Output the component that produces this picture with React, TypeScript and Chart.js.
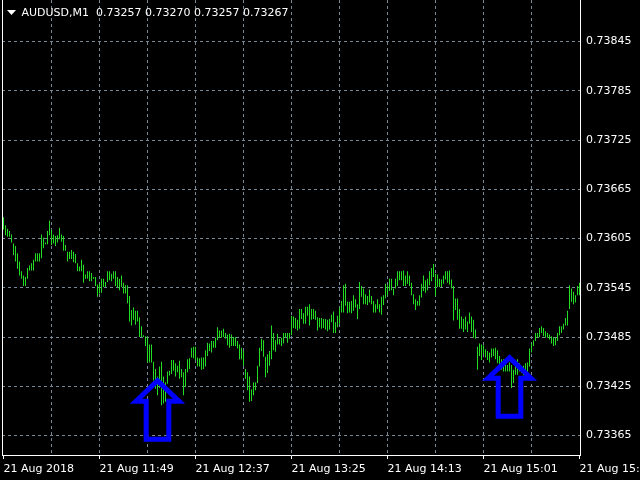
import { useEffect, useRef } from 'react';
import { Chart, registerables } from 'chart.js';

Chart.register(...registerables);

// ---- data ----
const timeLabels = ['21 Aug 2018', '21 Aug 11:49', '21 Aug 12:37', '21 Aug 13:25', '21 Aug 14:13', '21 Aug 15:01', '21 Aug 15:49'];
const xGridBars = [0, 24, 48, 72, 96, 120, 144, 168, 192, 216, 240, 264, 288];
const yTicks = [0.73365, 0.73425, 0.73485, 0.73545, 0.73605, 0.73665, 0.73725, 0.73785, 0.73845];

const highs = [
  0.73631, 0.73621, 0.73617, 0.73614, 0.73610, 0.73599, 0.73596, 0.73587, 0.73577, 0.73565,
  0.73560, 0.73558, 0.73569, 0.73572, 0.73575, 0.73579, 0.73587, 0.73587, 0.73587, 0.73610,
  0.73606, 0.73600, 0.73614, 0.73627, 0.73615, 0.73610, 0.73608, 0.73609, 0.73618, 0.73610,
  0.73608, 0.73597, 0.73589, 0.73589, 0.73591, 0.73589, 0.73586, 0.73575, 0.73571, 0.73579,
  0.73573, 0.73561, 0.73565, 0.73565, 0.73563, 0.73558, 0.73558, 0.73549, 0.73550, 0.73556,
  0.73556, 0.73552, 0.73565, 0.73565, 0.73562, 0.73565, 0.73565, 0.73558, 0.73556, 0.73560,
  0.73551, 0.73548, 0.73548, 0.73535, 0.73518, 0.73521, 0.73517, 0.73517, 0.73509, 0.73498,
  0.73487, 0.73486, 0.73485, 0.73476, 0.73476, 0.73455, 0.73446, 0.73437, 0.73449, 0.73455,
  0.73437, 0.73430, 0.73443, 0.73444, 0.73457, 0.73457, 0.73453, 0.73450, 0.73456, 0.73446,
  0.73442, 0.73446, 0.73458, 0.73459, 0.73472, 0.73473, 0.73473, 0.73460, 0.73459, 0.73460,
  0.73460, 0.73469, 0.73478, 0.73477, 0.73480, 0.73480, 0.73484, 0.73497, 0.73493, 0.73493,
  0.73495, 0.73490, 0.73488, 0.73489, 0.73488, 0.73485, 0.73485, 0.73480, 0.73476, 0.73472,
  0.73468, 0.73446, 0.73442, 0.73437, 0.73421, 0.73430, 0.73430, 0.73450, 0.73472, 0.73483,
  0.73481, 0.73461, 0.73464, 0.73468, 0.73499, 0.73490, 0.73481, 0.73489, 0.73483, 0.73484,
  0.73490, 0.73490, 0.73490, 0.73490, 0.73511, 0.73510, 0.73508, 0.73506, 0.73519, 0.73519,
  0.73514, 0.73522, 0.73522, 0.73525, 0.73519, 0.73519, 0.73517, 0.73509, 0.73508, 0.73508,
  0.73507, 0.73507, 0.73506, 0.73507, 0.73512, 0.73516, 0.73503, 0.73511, 0.73521, 0.73529,
  0.73548, 0.73550, 0.73528, 0.73528, 0.73529, 0.73536, 0.73531, 0.73525, 0.73552, 0.73547,
  0.73544, 0.73537, 0.73535, 0.73543, 0.73535, 0.73529, 0.73525, 0.73531, 0.73525, 0.73534,
  0.73536, 0.73550, 0.73548, 0.73556, 0.73556, 0.73544, 0.73556, 0.73565, 0.73565, 0.73565,
  0.73566, 0.73560, 0.73565, 0.73560, 0.73551, 0.73537, 0.73531, 0.73529, 0.73536, 0.73550,
  0.73560, 0.73554, 0.73556, 0.73565, 0.73569, 0.73574, 0.73562, 0.73561, 0.73556, 0.73555,
  0.73560, 0.73565, 0.73565, 0.73566, 0.73555, 0.73547, 0.73532, 0.73532, 0.73519, 0.73510,
  0.73507, 0.73510, 0.73504, 0.73515, 0.73510, 0.73506, 0.73494, 0.73473, 0.73477, 0.73476,
  0.73475, 0.73470, 0.73468, 0.73466, 0.73471, 0.73471, 0.73472, 0.73469, 0.73462, 0.73458,
  0.73458, 0.73451, 0.73451, 0.73454, 0.73451, 0.73445, 0.73453, 0.73458, 0.73453, 0.73448,
  0.73450, 0.73453, 0.73454, 0.73471, 0.73477, 0.73481, 0.73490, 0.73490, 0.73496, 0.73498,
  0.73496, 0.73492, 0.73490, 0.73488, 0.73486, 0.73485, 0.73484, 0.73490, 0.73498, 0.73498,
  0.73501, 0.73508, 0.73517, 0.73548, 0.73544, 0.73540, 0.73536, 0.73547, 0.73551,
];

const lows = [
  0.73616, 0.73609, 0.73607, 0.73607, 0.73600, 0.73585, 0.73577, 0.73568, 0.73560, 0.73556,
  0.73547, 0.73547, 0.73556, 0.73566, 0.73566, 0.73566, 0.73577, 0.73577, 0.73577, 0.73581,
  0.73593, 0.73598, 0.73598, 0.73609, 0.73597, 0.73599, 0.73596, 0.73600, 0.73604, 0.73601,
  0.73590, 0.73590, 0.73577, 0.73580, 0.73580, 0.73576, 0.73575, 0.73565, 0.73565, 0.73565,
  0.73551, 0.73556, 0.73556, 0.73553, 0.73553, 0.73556, 0.73547, 0.73534, 0.73538, 0.73539,
  0.73546, 0.73546, 0.73552, 0.73554, 0.73553, 0.73556, 0.73547, 0.73545, 0.73542, 0.73546,
  0.73538, 0.73538, 0.73526, 0.73504, 0.73499, 0.73506, 0.73500, 0.73504, 0.73485, 0.73485,
  0.73485, 0.73474, 0.73454, 0.73454, 0.73454, 0.73432, 0.73422, 0.73414, 0.73423, 0.73402,
  0.73404, 0.73406, 0.73428, 0.73438, 0.73440, 0.73444, 0.73437, 0.73442, 0.73434, 0.73436,
  0.73414, 0.73424, 0.73442, 0.73446, 0.73460, 0.73459, 0.73457, 0.73449, 0.73449, 0.73445,
  0.73446, 0.73449, 0.73462, 0.73468, 0.73466, 0.73472, 0.73472, 0.73481, 0.73484, 0.73484,
  0.73485, 0.73483, 0.73475, 0.73472, 0.73474, 0.73474, 0.73474, 0.73471, 0.73458, 0.73458,
  0.73450, 0.73434, 0.73420, 0.73406, 0.73407, 0.73414, 0.73420, 0.73429, 0.73449, 0.73468,
  0.73461, 0.73436, 0.73441, 0.73450, 0.73458, 0.73469, 0.73467, 0.73476, 0.73476, 0.73474,
  0.73477, 0.73484, 0.73478, 0.73483, 0.73487, 0.73496, 0.73495, 0.73493, 0.73495, 0.73507,
  0.73501, 0.73501, 0.73511, 0.73499, 0.73506, 0.73507, 0.73506, 0.73493, 0.73497, 0.73495,
  0.73496, 0.73494, 0.73492, 0.73494, 0.73503, 0.73490, 0.73490, 0.73497, 0.73501, 0.73515,
  0.73515, 0.73523, 0.73514, 0.73515, 0.73514, 0.73517, 0.73521, 0.73507, 0.73519, 0.73534,
  0.73525, 0.73525, 0.73524, 0.73527, 0.73525, 0.73515, 0.73515, 0.73519, 0.73515, 0.73512,
  0.73524, 0.73532, 0.73536, 0.73541, 0.73542, 0.73536, 0.73544, 0.73547, 0.73554, 0.73554,
  0.73547, 0.73547, 0.73550, 0.73547, 0.73536, 0.73525, 0.73518, 0.73523, 0.73523, 0.73533,
  0.73541, 0.73539, 0.73542, 0.73548, 0.73553, 0.73558, 0.73535, 0.73546, 0.73546, 0.73546,
  0.73550, 0.73555, 0.73551, 0.73549, 0.73544, 0.73505, 0.73518, 0.73506, 0.73495, 0.73495,
  0.73491, 0.73494, 0.73491, 0.73501, 0.73491, 0.73484, 0.73483, 0.73445, 0.73462, 0.73457,
  0.73464, 0.73460, 0.73457, 0.73454, 0.73460, 0.73462, 0.73458, 0.73453, 0.73449, 0.73445,
  0.73443, 0.73443, 0.73443, 0.73443, 0.73423, 0.73429, 0.73439, 0.73439, 0.73443, 0.73441,
  0.73438, 0.73443, 0.73441, 0.73449, 0.73466, 0.73474, 0.73480, 0.73484, 0.73485, 0.73490,
  0.73486, 0.73484, 0.73484, 0.73482, 0.73477, 0.73474, 0.73475, 0.73480, 0.73487, 0.73490,
  0.73494, 0.73499, 0.73499, 0.73519, 0.73528, 0.73525, 0.73527, 0.73536, 0.73536,
];

const headerSymbol = 'AUDUSD,M1';
const headerOHLC = [0.73257, 0.73270, 0.73257, 0.73267];

const arrowBars = [77, 253];
const arrowPrices = [0.73436, 0.73464];

// ---- view range / styles ----
const Y_MIN = 0.7334125;
const Y_MAX = 0.7389556;
const X_MIN = -0.75;
const X_MAX = 288.25;

const BAR_COLOR = '#22dd22';
const GRID_COLOR = '#778899';
const ARROW_COLOR = '#0000ff';
const FONT = 'DejaVu Sans';

const headerPlugin = {
  id: 'mtHeader',
  afterDraw(chart: any) {
    const ctx = chart.ctx;
    ctx.save();
    ctx.fillStyle = '#ffffff';
    ctx.beginPath();
    ctx.moveTo(7, 10);
    ctx.lineTo(16, 10);
    ctx.lineTo(11.5, 15);
    ctx.closePath();
    ctx.fill();
    ctx.font = `11px "${FONT}"`;
    ctx.textBaseline = 'alphabetic';
    ctx.textAlign = 'left';
    ctx.fillText(headerSymbol, 21.5, 16);
    ctx.fillText(headerOHLC.map((v) => v.toFixed(5)).join(' '), 96, 16);
    ctx.restore();
  },
};

const arrowPlugin = {
  id: 'mtArrows',
  afterDatasetsDraw(chart: any) {
    const ctx = chart.ctx;
    const xs = chart.scales.x;
    const ys = chart.scales.y;
    ctx.save();
    ctx.strokeStyle = ARROW_COLOR;
    ctx.lineWidth = 5;
    ctx.lineJoin = 'miter';
    ctx.miterLimit = 10;
    for (let k = 0; k < arrowBars.length; k++) {
      const px = xs.getPixelForValue(arrowBars[k]);
      const py = ys.getPixelForValue(arrowPrices[k]);
      ctx.beginPath();
      ctx.moveTo(px, py + 3.4);
      ctx.lineTo(px + 21.5, py + 24);
      ctx.lineTo(px + 11.3, py + 24);
      ctx.lineTo(px + 11.3, py + 62);
      ctx.lineTo(px - 11.3, py + 62);
      ctx.lineTo(px - 11.3, py + 24);
      ctx.lineTo(px - 21.5, py + 24);
      ctx.closePath();
      ctx.stroke();
    }
    ctx.restore();
  },
};

const leftBorderPlugin = {
  id: 'mtLeftBorder',
  afterDraw(chart: any) {
    const { ctx, chartArea } = chart;
    ctx.save();
    ctx.strokeStyle = '#ffffff';
    ctx.lineWidth = 1;
    ctx.beginPath();
    ctx.moveTo(Math.floor(chartArea.left) + 0.5, chartArea.top);
    ctx.lineTo(Math.floor(chartArea.left) + 0.5, chartArea.bottom + 1);
    ctx.stroke();
    ctx.restore();
  },
};

export default function App() {
  const ref = useRef<HTMLCanvasElement>(null);

  useEffect(() => {
    document.body.style.margin = '0';
    document.body.style.background = '#000';
    const canvas = ref.current as HTMLCanvasElement;
    const data = highs.map((h, i) => ({ x: i, y: [lows[i], h] }));
    const chart = new Chart(canvas, {
      type: 'bar',
      data: {
        datasets: [
          {
            data: data as any,
            backgroundColor: BAR_COLOR,
            borderWidth: 0,
            barThickness: 1,
            inflateAmount: 0,
            grouped: false,
          } as any,
        ],
      },
      options: {
        animation: false,
        responsive: false,
        devicePixelRatio: 1,
        events: [],
        layout: { padding: { left: 2, top: 0, right: 0, bottom: 0 } },
        plugins: { legend: { display: false }, tooltip: { enabled: false } },
        scales: {
          x: {
            type: 'linear',
            min: X_MIN,
            max: X_MAX,
            bounds: 'data',
            offset: false,
            afterBuildTicks: (s: any) => {
              s.ticks = xGridBars.map((v) => ({ value: v }));
            },
            afterFit: (s: any) => {
              s.height = 25;
              s.paddingLeft = 0;
              s.paddingRight = 0;
            },
            grid: {
              offset: false,
              color: (c: any) => (c.tick && (c.tick.value === 0 || c.tick.value === 288) ? 'rgba(0,0,0,0)' : GRID_COLOR),
              lineWidth: 1,
              drawTicks: true,
              tickLength: 4,
              tickColor: (c: any) => (c.tick && c.tick.value % 48 === 0 ? '#ffffff' : 'rgba(0,0,0,0)'),
            },
            border: { display: true, color: '#ffffff', width: 1, dash: [3, 3] },
            ticks: {
              autoSkip: false,
              maxRotation: 0,
              minRotation: 0,
              align: 'start',
              padding: 4,
              color: '#ffffff',
              font: { family: FONT, size: 11 },
              callback: (v: any) => {
                const n = Number(v);
                return n % 48 === 0 ? timeLabels[n / 48] : '';
              },
            },
          } as any,
          y: {
            type: 'linear',
            position: 'right',
            min: Y_MIN,
            max: Y_MAX,
            bounds: 'data',
            afterBuildTicks: (s: any) => {
              s.ticks = yTicks.map((v) => ({ value: v }));
            },
            afterFit: (s: any) => {
              s.width = 60;
              s.paddingTop = 0;
              s.paddingBottom = 0;
            },
            grid: {
              color: GRID_COLOR,
              lineWidth: 1,
              drawTicks: true,
              tickLength: 4,
              tickColor: 'rgba(0,0,0,0)',
            },
            border: { display: true, color: '#ffffff', width: 1, dash: [3, 3] },
            ticks: {
              autoSkip: false,
              padding: 2,
              color: '#ffffff',
              font: { family: FONT, size: 11 },
              callback: (v: any) => Number(v).toFixed(5),
            },
          } as any,
        },
      },
      plugins: [arrowPlugin, leftBorderPlugin, headerPlugin],
    });
    return () => chart.destroy();
  }, []);

  return (
    <div style={{ position: 'fixed', left: 0, top: 0, width: 640, height: 480, background: '#000' }}>
      <canvas ref={ref} width={640} height={480} style={{ display: 'block', width: 640, height: 480 }} />
    </div>
  );
}
